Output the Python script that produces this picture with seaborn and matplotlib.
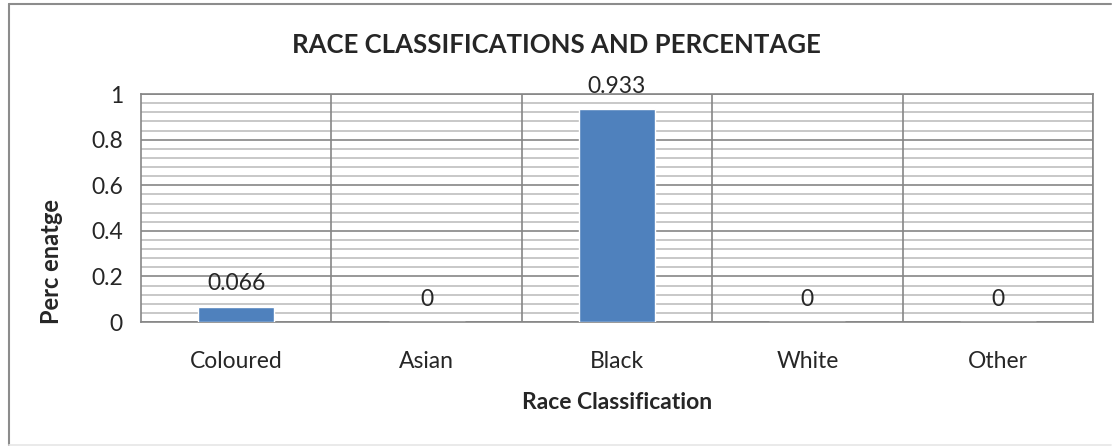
import numpy as np
import pandas as pd
import matplotlib
matplotlib.use("Agg")
import matplotlib.pyplot as plt
import seaborn as sns
from matplotlib.lines import Line2D

# chart data
categories = ["Coloured", "Asian", "Black", "White", "Other"]
values = [0.066, 0, 0.933, 0, 0]
value_labels = ["0.066", "0", "0.933", "0", "0"]

sns.set_style("white")
plt.rcParams['font.family'] = ['Lato', 'DejaVu Sans']

df = pd.DataFrame({"Race": categories, "Pct": values})

fig = plt.figure(figsize=(11.12, 4.46), dpi=100)
ax = fig.add_axes([0.1268, 0.278, 0.8561, 0.511])

sns.barplot(data=df, x="Race", y="Pct", color="#4F81BD", width=0.40,
            saturation=1, ax=ax, zorder=3)

ax.set_ylim(0, 1)
ax.set_xlim(-0.5, len(categories) - 0.5)

# y grid: major every 0.2, minor every 0.04
ax.set_yticks(np.arange(0, 1.01, 0.2))
ax.set_yticklabels(["0", "0.2", "0.4", "0.6", "0.8", "1"])
ax.set_yticks(np.arange(0, 1.001, 0.04), minor=True)
ax.grid(True, axis="y", which="major", color="#868686", lw=1.2, zorder=0)
ax.grid(True, axis="y", which="minor", color="#bfbfbf", lw=1.2, zorder=0)

# vertical lines between categories
for xb in np.arange(0.5, len(categories), 1):
    ax.axvline(xb, color="#868686", lw=1.2, zorder=1)

# category boundary ticks below axis
ax.set_xticks(np.arange(-0.5, len(categories), 1), minor=True)
ax.tick_params(axis="x", which="minor", length=6, color="#868686", width=1.2, direction="out")
ax.tick_params(axis="x", which="major", length=0, labelsize=16.5, pad=21)
ax.tick_params(axis="y", which="both", length=5, color="#868686", width=1.2, direction="out", labelsize=16.5)
ax.tick_params(axis="y", which="major", length=7, pad=6)

for s in ["left", "bottom", "right", "top"]:
    ax.spines[s].set_color("#868686")
    ax.spines[s].set_linewidth(1.2)

for i, (v, lab) in enumerate(zip(values, value_labels)):
    ax.annotate(lab, (i, v), xytext=(0, 9), textcoords="offset points",
                ha="center", va="bottom", fontsize=16.5, zorder=4)

ax.set_xlabel("Race Classification", fontsize=16.5, fontweight="bold")
ax.xaxis.set_label_coords(0.5, -0.305)
ax.set_ylabel("Perc enatge", fontsize=17, fontweight="bold")
ax.yaxis.set_label_coords(-0.082, 0.264)
fig.text(0.5, 1 - 45 / 446, "RACE CLASSIFICATIONS AND PERCENTAGE", ha="center", va="center",
         fontsize=18.5, fontweight="bold")

# outer chart border
x0, x1 = 8.5 / 1112, 1111 / 1112
y0, y1 = 1 - 444.5 / 446, 1 - 3.5 / 446
fig.add_artist(Line2D([x0, x1], [y1, y1], transform=fig.transFigure, color="#8c8c8c", lw=1.5))
fig.add_artist(Line2D([x0, x0], [y0, y1], transform=fig.transFigure, color="#8c8c8c", lw=1.5))
fig.add_artist(Line2D([x0, x1], [y0, y0], transform=fig.transFigure, color="#e6e6e6", lw=1.2))

fig.savefig("out.png", dpi=100)
